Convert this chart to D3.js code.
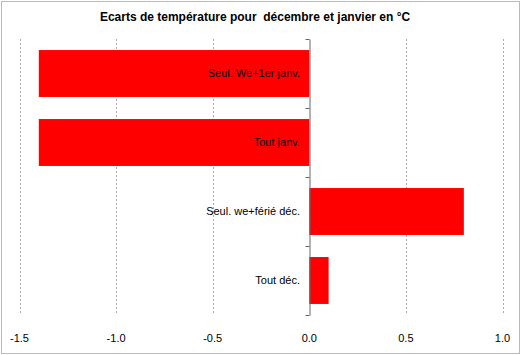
<!DOCTYPE html>
<html>
<head>
<meta charset="utf-8">
<script src="https://cdn.jsdelivr.net/npm/d3@7"></script>
<style>
  body { margin: 0; background: #fff; }
  svg { font-family: Arial, "Liberation Sans", sans-serif; }
</style>
</head>
<body>
<div id="chart"></div>
<script>
let categories = ['Seul. We+1er janv.', 'Tout janv.', 'Seul. we+férié déc.', 'Tout déc.']
let values = [-1.4, -1.4, 0.8, 0.1]
let ticks = [-1.5, -1.0, -0.5, 0.0, 0.5, 1.0]
let title = 'Ecarts de température pour\u00a0\u00a0décembre et janvier en °C'

let width = 521
let height = 355

let svg = d3.select('#chart')
  .append('svg')
  .attr('width', width)
  .attr('height', height)

// cadre pointillé
svg.append('rect')
  .attr('x', 1.5).attr('y', 1.5)
  .attr('width', width - 3).attr('height', height - 3)
  .attr('fill', 'white')
  .attr('stroke', '#777')
  .attr('stroke-dasharray', '1,1')

svg.append('text')
  .attr('x', 255)
  .attr('y', 21)
  .attr('text-anchor', 'middle')
  .attr('font-size', 12)
  .attr('font-weight', 'bold')
  .text(title)

let xScale = d3.scaleLinear()
  .domain([-1.5, 1.0])
  .range([19.5, 502.5])

let yScale = d3.scaleBand()
  .domain(categories)
  .range([39, 315])
  .paddingInner(0.32)
  .paddingOuter(0.16)

let bands = d3.scaleBand()
  .domain(categories)
  .range([39, 315])

// grille verticale
svg.append('g')
  .selectAll('line')
  .data(ticks.filter(t => t !== 0))
  .enter()
  .append('line')
  .attr('x1', d => Math.round(xScale(d)) + 0.5)
  .attr('x2', d => Math.round(xScale(d)) + 0.5)
  .attr('y1', 39)
  .attr('y2', 315)
  .attr('stroke', '#aaa')
  .attr('stroke-dasharray', '2,2')

svg.selectAll('rect.bar')
  .data(values)
  .enter()
  .append('rect')
  .attr('class', 'bar')
  .attr('x', d => xScale(Math.min(0, d)))
  .attr('y', (d, i) => yScale(categories[i]))
  .attr('width', d => Math.abs(xScale(d) - xScale(0)))
  .attr('height', yScale.bandwidth())
  .attr('fill', '#ff0000')

// axe vertical au zéro
let x0 = Math.round(xScale(0)) + 0.5
let yAxis = d3.axisLeft(bands).tickSize(0).tickFormat('')
let axisG = svg.append('g')
  .attr('transform', 'translate(' + x0 + ',0)')
  .call(yAxis)
axisG.select('.domain').attr('stroke', '#666')
axisG.selectAll('.tick').remove()
axisG.selectAll('line.sep')
  .data([39, 315].concat(categories.slice(1).map(c => bands(c))))
  .enter()
  .append('line')
  .attr('class', 'sep')
  .attr('x1', -4).attr('x2', 0)
  .attr('y1', d => Math.round(d) + 0.5)
  .attr('y2', d => Math.round(d) + 0.5)
  .attr('stroke', '#666')

// étiquettes des catégories
svg.selectAll('text.cat')
  .data(categories)
  .enter()
  .append('text')
  .attr('class', 'cat')
  .attr('x', 300)
  .attr('y', d => bands(d) + bands.bandwidth() / 2)
  .attr('dy', '0.35em')
  .attr('text-anchor', 'end')
  .attr('font-size', 11)
  .attr('fill', '#000')
  .text(d => d)

// étiquettes de l'axe x
svg.selectAll('text.tick')
  .data(ticks)
  .enter()
  .append('text')
  .attr('class', 'tick')
  .attr('x', d => xScale(d))
  .attr('y', 338)
  .attr('dy', '0.35em')
  .attr('text-anchor', 'middle')
  .attr('font-size', 11)
  .text(d => d.toFixed(1))
</script>
</body>
</html>
